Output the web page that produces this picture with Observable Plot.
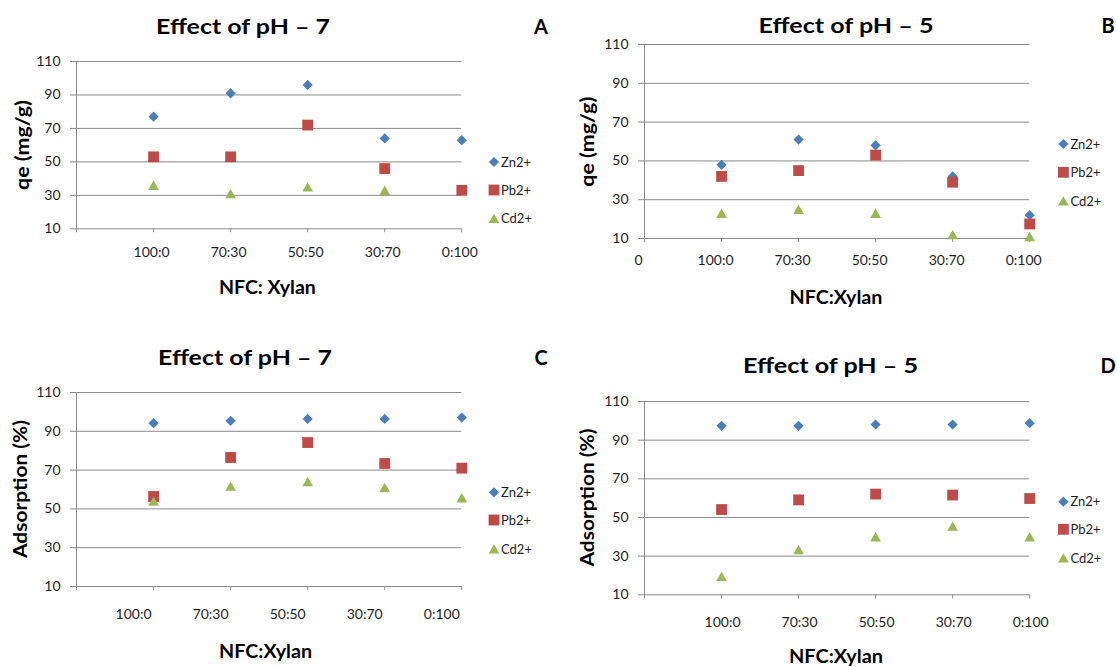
<!DOCTYPE html>
<html>
<head>
<meta charset="utf-8">
<script src="https://cdn.jsdelivr.net/npm/d3@7"></script>
<script src="https://cdn.jsdelivr.net/npm/@observablehq/plot@0.6"></script>
<style>
  html, body { margin: 0; padding: 0; background: #ffffff; }
  #root { position: relative; width: 1117px; height: 667px; overflow: hidden; font-family: Lato, "Open Sans", sans-serif; }
  #root > svg, #root > .panel { position: absolute; }
  #overlay { left: 0; top: 0; pointer-events: none; }
</style>
</head>
<body>
<div id="root"></div>
<script>
// ---------------- data ----------------
const categories = ["100:0", "70:30", "50:50", "30:70", "0:100"];
const yTickValues = [10, 30, 50, 70, 90, 110];
const seriesNames = ["Zn2+", "Pb2+", "Cd2+"];
const seriesColors = ["#4A7EBB", "#BE4B48", "#98B954"];
const panelTitles = ["Effect of pH – 7", "Effect of pH – 5", "Effect of pH – 7", "Effect of pH – 5"];
const panelLetters = ["A", "B", "C", "D"];
const yTitles = ["qe (mg/g)", "qe (mg/g)", "Adsorption (%)", "Adsorption (%)"];
const xTitles = ["NFC: Xylan", "NFC:Xylan", "NFC:Xylan", "NFC:Xylan"];
const originLabels = ["", "0", "", ""];

// Panel A: qe at pH 7
const znA = [77, 91, 96, 64, 63];
const pbA = [53, 53, 72, 46, 33];
const cdA = [36, 31, 35, 33, null];
// Panel B: qe at pH 5
const znB = [48, 61, 58, 42, 22];
const pbB = [42, 45, 53, 39, 17.5];
const cdB = [23, 25, 23, 12, 11];
// Panel C: adsorption % at pH 7
const znC = [94.2, 95.4, 96.4, 96.4, 97.1];
const pbC = [56.4, 76.5, 84.2, 73.4, 71];
const cdC = [54, 61.7, 64, 61, 55.7];
// Panel D: adsorption % at pH 5
const znD = [97.4, 97.4, 98.1, 98.1, 98.8];
const pbD = [54.1, 59.1, 62.1, 61.6, 59.8];
const cdD = [19.5, 33.3, 40, 45.5, 40];

// ---------------- layout ----------------
const layouts = [
  {x0: 75.9, x1: 461.2, yTop: 61, yBot: 228.3, labelDx: -2, labelPad: 18.5,
   title: [243, 34.3, 174], letter: [541, 34.3], yTitle: [29, 145, 90], xTitle: [267.4, 294, 97],
   legend: {x: 494, ys: [162, 190, 218.5]}},
  {x0: 643.6, x1: 1028.8, yTop: 44, yBot: 238, labelDx: -6, labelPad: 16.5,
   title: [846, 33.3, 175], letter: [1108, 33.3], yTitle: [594, 141.7, 90], xTitle: [836, 304, 93],
   legend: {x: 1063.4, ys: [144, 172.3, 201]}},
  {x0: 75.9, x1: 461.2, yTop: 391.7, yBot: 585.7, labelDx: -20, labelPad: 22.2,
   title: [245, 365, 174], letter: [541, 365], yTitle: [27, 489, 138], xTitle: [265.6, 658.3, 93],
   legend: {x: 494, ys: [492.3, 520, 549]}},
  {x0: 643.6, x1: 1028.8, yTop: 401, yBot: 594.3, labelDx: 1, labelPad: 22,
   title: [830.5, 373, 175], letter: [1108, 373], yTitle: [594, 497.5, 138], xTitle: [836, 663, 94],
   legend: {x: 1063.4, ys: [501.7, 529.3, 558]}}
];
const panelData = [[znA, pbA, cdA], [znB, pbB, cdB], [znC, pbC, cdC], [znD, pbD, cdD]];

const root = document.getElementById("root");
const gridColor = "#8A8A8A";
const textColor = "#1E1E1E";
const ML = 70, MR = 15, MT = 10, MB = 45;

panelData.forEach((series, p) => {
  const lay = layouts[p];
  const left = lay.x0 - ML;
  const top = lay.yTop - MT;
  const width = lay.x1 + MR - left;
  const height = lay.yBot + MB - top;
  const [zn, pb, cd] = series;
  const chart = Plot.plot({
    width, height,
    marginLeft: ML, marginRight: MR, marginTop: MT, marginBottom: MB,
    style: {fontFamily: "Lato, sans-serif", fontSize: "14px", color: textColor, background: "transparent", overflow: "visible"},
    x: {domain: [0, 5], type: "linear"},
    y: {domain: [10, 110], type: "linear"},
    marks: [
      Plot.gridY(yTickValues, {stroke: gridColor, strokeOpacity: 1, strokeWidth: 1}),
      Plot.ruleX([0], {y1: 10, y2: 110, stroke: gridColor, strokeWidth: 1}),
      Plot.axisY(yTickValues, {tickSize: 6, tickPadding: 10, stroke: gridColor, fill: textColor, label: null, fontSize: 14}),
      Plot.axisX(d3.range(0, 6), {tickSize: 4, stroke: gridColor, fill: "none", label: null}),
      Plot.axisX(d3.range(0, 6), {tickSize: 0, tickPadding: lay.labelPad, stroke: "none", fill: textColor, label: null, dx: lay.labelDx, fontSize: 14,
        tickFormat: (i) => i === 0 ? originLabels[p] : categories[i - 1]}),
      Plot.dot(zn, {x: (d, i) => i + 1, y: (d) => d, symbol: "diamond2", fill: seriesColors[0], stroke: "none", r: 4.6}),
      Plot.dot(pb, {x: (d, i) => i + 1, y: (d) => d, symbol: "square", fill: seriesColors[1], stroke: "none", r: 6.1}),
      Plot.dot(cd, {x: (d, i) => i + 1, y: (d) => d, symbol: "triangle", fill: seriesColors[2], stroke: "none", r: 4, dy: 1.5})
    ]
  });
  chart.classList.add("panel");
  chart.style.left = left + "px";
  chart.style.top = top + "px";
  chart.style.position = "absolute";
  root.appendChild(chart);
});

// ---------------- overlay texts & legends ----------------
const overlay = d3.select(root).append("svg")
  .attr("id", "overlay")
  .attr("width", 1117).attr("height", 667)
  .style("position", "absolute").style("left", "0px").style("top", "0px")
  .attr("font-family", "Lato, sans-serif");

const symbolTypes = [d3.symbolDiamond2, d3.symbolSquare, d3.symbolTriangle];
const symbolRadii = [4.6, 6.1, 4];

layouts.forEach((lay, p) => {
  overlay.append("text").attr("x", lay.title[0]).attr("y", lay.title[1])
    .attr("text-anchor", "middle").attr("font-weight", "bold").attr("font-size", 20).attr("fill", "#000")
    .attr("textLength", lay.title[2]).attr("lengthAdjust", "spacingAndGlyphs")
    .text(panelTitles[p]);
  overlay.append("text").attr("x", lay.letter[0]).attr("y", lay.letter[1])
    .attr("text-anchor", "middle").attr("font-weight", "bold").attr("font-size", 20).attr("fill", "#000")
    .text(panelLetters[p]);
  overlay.append("text")
    .attr("transform", `translate(${lay.yTitle[0]},${lay.yTitle[1]}) rotate(-90)`)
    .attr("text-anchor", "middle").attr("font-weight", "bold").attr("font-size", 18.5).attr("fill", "#000")
    .attr("textLength", lay.yTitle[2]).attr("lengthAdjust", "spacingAndGlyphs")
    .text(yTitles[p]);
  overlay.append("text").attr("x", lay.xTitle[0]).attr("y", lay.xTitle[1])
    .attr("text-anchor", "middle").attr("font-weight", "bold").attr("font-size", 18.5).attr("fill", "#000")
    .attr("textLength", lay.xTitle[2]).attr("lengthAdjust", "spacingAndGlyphs")
    .text(xTitles[p]);
  seriesNames.forEach((name, s) => {
    const y = lay.legend.ys[s];
    const r = symbolRadii[s];
    overlay.append("path")
      .attr("transform", `translate(${lay.legend.x},${y + (s === 2 ? 1.5 : 0)})`)
      .attr("d", d3.symbol(symbolTypes[s], Math.PI * r * r)())
      .attr("fill", seriesColors[s]);
    overlay.append("text").attr("x", lay.legend.x + 7).attr("y", y + 4.5)
      .attr("font-size", 13).attr("fill", textColor)
      .text(name);
  });
});
</script>
</body>
</html>
